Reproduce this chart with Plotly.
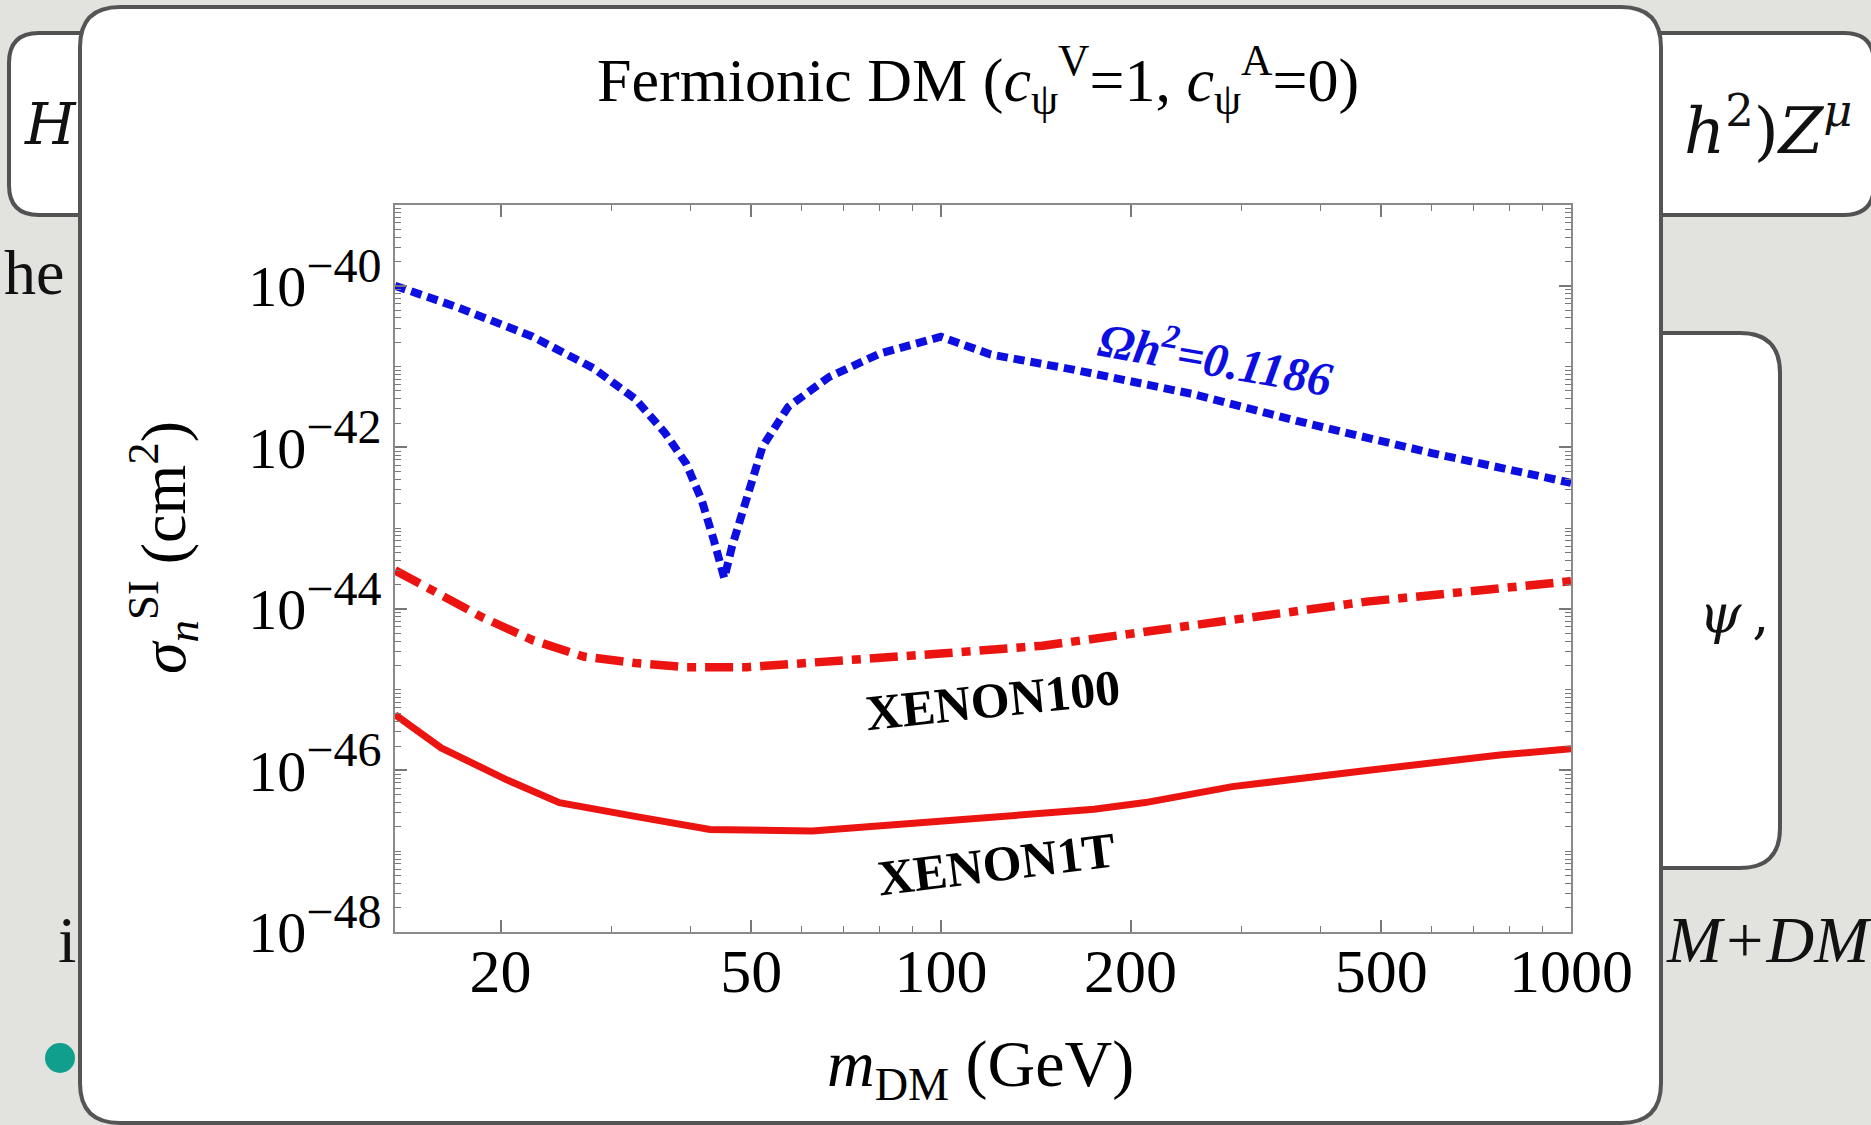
import plotly.graph_objects as go

# ---- data ---------------------------------------------------------------
# Relic-density line (Omega h^2 = 0.1186), fermionic DM with c_V = 1, c_A = 0
mass_relic = [13.6, 17.0, 22.5, 28.1, 32.7, 36.5, 39.4, 41.7, 43.6, 45.3, 46.6,
              49.3, 52.1, 57.2, 66.4, 80.0, 100, 120, 163, 251, 388, 601, 1000]
sigma_relic = [1.0e-40, 5.5e-41, 2.34e-41, 9.5e-42, 4.0e-42, 1.5e-42, 6.3e-43,
               2.24e-43, 7.1e-44, 2.4e-44, 5.9e-44, 2.45e-43, 1.02e-42, 3.16e-42,
               7.4e-42, 1.45e-41, 2.34e-41, 1.41e-41, 9.1e-42, 4.57e-42, 1.91e-42,
               8.5e-43, 3.63e-43]

# XENON100 exclusion limit
mass_x100 = [13.6, 15.5, 18.7, 22.5, 27.1, 32.7, 39.4, 49.2, 68.8, 100, 145, 239, 474, 1000]
sigma_x100 = [3.0e-44, 1.7e-44, 7.9e-45, 4.1e-45, 2.57e-45, 2.14e-45, 1.9e-45,
              1.9e-45, 2.24e-45, 2.8e-45, 3.5e-45, 6.0e-45, 1.23e-44, 2.2e-44]

# XENON1T projected sensitivity
mass_x1t = [13.6, 16.1, 20.5, 24.8, 32.7, 43.0, 62.5, 100, 175, 211, 290, 474, 771, 1000]
sigma_x1t = [4.9e-46, 1.9e-46, 7.6e-47, 4.0e-47, 2.7e-47, 1.86e-47, 1.78e-47,
             2.34e-47, 3.3e-47, 4.0e-47, 6.3e-47, 1.0e-46, 1.55e-46, 1.86e-46]

x_tick_vals = [20, 50, 100, 200, 500, 1000]
x_tick_text = ["20", "50", "100", "200", "500", "1000"]
x_minor_vals = [30, 40, 60, 70, 80, 90, 300, 400, 600, 700, 800, 900]

y_tick_exps = [-48, -46, -44, -42, -40]
y_tick_vals = [10.0 ** e for e in y_tick_exps]
y_tick_text = ["10<sup><span style='font-size:48px'>\u2212%d</span></sup>" % (-e) for e in y_tick_exps]
y_minor_vals = [m * 10.0 ** e for e in range(-48, -39) for m in range(1, 10)
                if not (m == 1 and e % 2 == 0)]

# ---- geometry (pixels) --------------------------------------------------
FIG_W, FIG_H = 1871, 1125
L, R, T, B = 395, 1571, 205, 932
PW, PH = R - L, B - T


def px(x):
    return (x - L) / PW


def py(y):
    return (B - y) / PH


def rounded_rect(x0, y0, x1, y1, r):
    return (f"M {px(x0 + r)},{py(y0)} L {px(x1 - r)},{py(y0)} "
            f"Q {px(x1)},{py(y0)} {px(x1)},{py(y0 + r)} L {px(x1)},{py(y1 - r)} "
            f"Q {px(x1)},{py(y1)} {px(x1 - r)},{py(y1)} L {px(x0 + r)},{py(y1)} "
            f"Q {px(x0)},{py(y1)} {px(x0)},{py(y1 - r)} L {px(x0)},{py(y0 + r)} "
            f"Q {px(x0)},{py(y0)} {px(x0 + r)},{py(y0)} Z")


def label(x, y, text, size, color="black", family="Liberation Serif",
          angle=0, xanchor="center"):
    return dict(x=px(x), y=py(y), xref="paper", yref="paper", showarrow=False,
                xanchor=xanchor, yanchor="middle", textangle=angle, text=text,
                font=dict(family=family, size=size, color=color))


SERIF = "Liberation Serif"
BLUE = "#0d0fe0"
RED = "#ec1410"

fig = go.Figure()

fig.add_trace(go.Scatter(x=mass_relic, y=sigma_relic, mode="lines",
                         line=dict(color=BLUE, width=8, dash="11px,6px"),
                         showlegend=False, hoverinfo="skip"))
fig.add_trace(go.Scatter(x=mass_x100, y=sigma_x100, mode="lines",
                         line=dict(color=RED, width=8.5, dash="28px,9px,9px,9px"),
                         showlegend=False, hoverinfo="skip"))
fig.add_trace(go.Scatter(x=mass_x1t, y=sigma_x1t, mode="lines",
                         line=dict(color=RED, width=7),
                         showlegend=False, hoverinfo="skip"))

shapes = [
    # slide boxes behind the figure card
    dict(type="path", xref="paper", yref="paper", layer="below",
         path=rounded_rect(9, 33, 1874, 215, 30),
         fillcolor="white", line=dict(color="#525252", width=4)),
    dict(type="path", xref="paper", yref="paper", layer="below",
         path=rounded_rect(1560, 333, 1780, 868, 40),
         fillcolor="white", line=dict(color="#525252", width=4)),
    # figure card
    dict(type="path", xref="paper", yref="paper", layer="below",
         path=rounded_rect(80, 7, 1661, 1123, 40),
         fillcolor="white", line=dict(color="#555555", width=4)),
    # teal bullet
    dict(type="circle", xref="paper", yref="paper", layer="below",
         x0=px(45), x1=px(75), y0=py(1073), y1=py(1043),
         fillcolor="#0f9f8c", line=dict(width=0)),
]

annotations = [
    # chart title
    label(978, 80, "Fermionic DM (<i>c</i><sub>\u03c8</sub><sup>V</sup>=1, "
                   "<i>c</i><sub>\u03c8</sub><sup>A</sup>=0)", 62),
    # axis titles
    label(980, 1068, "<i>m</i><sub>DM</sub> (GeV)", 66),
    label(163, 548, "<i>\u03c3</i><sub><i>n</i></sub><sup>SI</sup> (cm<sup>2</sup>)",
          64, angle=-90),
    # curve labels
    label(1216, 356, "<b><i>\u03a9h<sup>2</sup>=0.1186</i></b>", 48,
          color=BLUE, angle=10),
    label(993, 700, "<b>XENON100</b>", 50, angle=-6),
    label(996, 864, "<b>XENON1T</b>", 50, angle=-7),
    # slide text around the card
    label(50, 124, "<i>H</i>", 58, color="#111", family="DejaVu Serif"),
    label(1682, 126, "<i>h</i><sup>2</sup>)<i>Z</i><sup><i>\u03bc</i></sup>", 64,
          color="#111", family="DejaVu Serif", xanchor="left"),
    label(1697, 614, "<i>\u03c8</i>\u2009,", 54, color="#111",
          family="DejaVu Serif", xanchor="left"),
    label(66, 272, "he", 64, color="#111", xanchor="right"),
    label(78, 940, "i", 66, color="#111", xanchor="right"),
    label(1664, 940, "<i>M+DM</i>", 66, color="#111", xanchor="left"),
]

axis_common = dict(
    type="log", showgrid=False, zeroline=False, showline=True,
    linecolor="#8a8a8a", linewidth=2, mirror="ticks",
    ticks="inside", ticklen=12, tickwidth=1.5, tickcolor="#777777",
    automargin=False,
)

fig.update_layout(
    width=FIG_W, height=FIG_H,
    margin=dict(l=L, r=FIG_W - R, t=T, b=FIG_H - B, pad=0),
    paper_bgcolor="#e2e2de", plot_bgcolor="white",
    template="none", showlegend=False,
    shapes=shapes, annotations=annotations,
    xaxis=dict(**axis_common, range=[1.1335, 3.0],
               tickmode="array", tickvals=x_tick_vals, ticktext=x_tick_text,
               ticklabelstandoff=-16,
               tickfont=dict(family=SERIF, size=62, color="black"),
               minor=dict(tickmode="array", tickvals=x_minor_vals, ticks="inside",
                          ticklen=6, tickwidth=1.2, tickcolor="#777777", showgrid=False)),
    yaxis=dict(**axis_common, range=[-48, -39],
               tickmode="array", tickvals=y_tick_vals, ticktext=y_tick_text,
               tickfont=dict(family=SERIF, size=58, color="black"),
               minor=dict(tickmode="array", tickvals=y_minor_vals, ticks="inside",
                          ticklen=6, tickwidth=1.2, tickcolor="#777777", showgrid=False)),
)

fig.write_html("out.html")
